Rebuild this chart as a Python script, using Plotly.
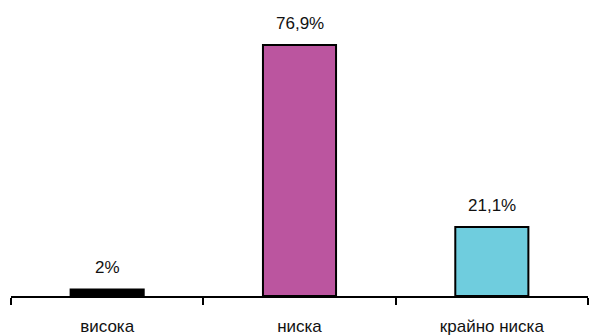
import plotly.graph_objects as go

categories = ["висока", "ниска", "крайно ниска"]
values = [2.0, 76.9, 21.1]
labels = ["2%", "76,9%", "21,1%"]
colors = ["#000000", "#BB559F", "#6FCDDE"]

FONT = "Liberation Sans Narrow, Arial Narrow, Liberation Sans, Arial, sans-serif"

fig = go.Figure()
fig.add_trace(go.Bar(
    x=categories, y=values,
    marker=dict(color=colors, line=dict(color="#000000", width=2)),
    hoverinfo="skip",
))
for c, v, t in zip(categories, values, labels):
    fig.add_annotation(x=c, y=v, text=t, showarrow=False, yanchor="bottom",
                       yshift=10, font=dict(family=FONT, size=17, color="#111111"))

fig.update_layout(
    width=590, height=336,
    margin=dict(l=11, r=2, t=10, b=40, autoexpand=False),
    paper_bgcolor="white", plot_bgcolor="white",
    bargap=0.62, showlegend=False,
    font=dict(family=FONT, size=17, color="#111111"),
)
fig.update_xaxes(
    showline=True, linecolor="#000000", linewidth=2,
    ticks="outside", tickson="boundaries", ticklen=7, tickwidth=2, tickcolor="#000000",
    ticklabelstandoff=14, showgrid=False, automargin=False,
)
fig.update_yaxes(range=[0, 87.6], visible=False, showgrid=False)

fig.write_html("out.html", config={"displayModeBar": False},
               post_script="document.body.style.margin='0';document.body.style.padding='0';")
